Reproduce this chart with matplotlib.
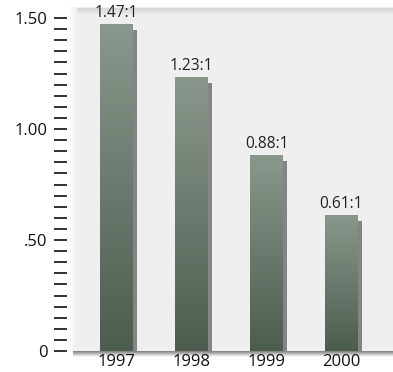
import matplotlib
matplotlib.use("Agg")
import matplotlib.pyplot as plt
import numpy as np
from matplotlib.colors import LinearSegmentedColormap
from matplotlib.patches import Rectangle

years = ["1997", "1998", "1999", "2000"]
ratios = [1.47, 1.23, 0.88, 0.61]
ratio_labels = ["1.47:1", "1.23:1", "0.88:1", "0.61:1"]
yticks = [0, 0.5, 1.0, 1.5]
ytick_labels = ["0", ".50", "1.00", "1.50"]

plt.rcParams['font.family'] = ['Open Sans', 'DejaVu Sans']

W, H = 393, 372
fig = plt.figure(figsize=(W / 100, H / 100), dpi=100)
fig.patch.set_facecolor("white")

ax_left_px, ax_right_px = 67, 393
y0_px = 351
ppu = 222.0
ymax = 1.56
top_px = y0_px - ymax * ppu
ax = fig.add_axes([ax_left_px / W, (H - y0_px) / H,
                   (ax_right_px - ax_left_px) / W, (y0_px - top_px) / H])
ax.set_facecolor("none")

step = 75.0
c0 = 116.5
xmin = (ax_left_px - c0) / step
xmax = (ax_right_px - c0) / step
ax.set_xlim(xmin, xmax)
ax.set_ylim(0, ymax)

px_x = 1.0 / step
px_y = 1.0 / ppu

# panel background
ax.imshow(np.full((2, 2, 3), 0.94), extent=[xmin + 5 * px_x, xmax, 0, ymax - 3 * px_y],
          aspect="auto", zorder=0, interpolation="bilinear")
grad = np.linspace(1.0, 0.94, 20)
ax.imshow(np.dstack([np.tile(grad, (2, 1))] * 3),
          extent=[xmin + 1 * px_x, xmin + 10 * px_x, 0, ymax - 3 * px_y],
          aspect="auto", zorder=0.5, interpolation="bilinear")
tg = np.linspace(0.94, 0.84, 20)[:, None]
ax.imshow(np.dstack([np.tile(tg[::-1], (1, 2))] * 3),
          extent=[xmin + 10 * px_x, xmax, ymax - 10 * px_y, ymax - 3 * px_y],
          aspect="auto", zorder=0.5, interpolation="bilinear")
bg = np.linspace(0.5, 1.0, 20)[:, None]
ax.imshow(np.dstack([np.tile(bg, (1, 2))] * 3), extent=[xmin + 6 * px_x, xmax, -6 * px_y, 0],
          aspect="auto", zorder=0.5, interpolation="bilinear", clip_on=False)

cmap = LinearSegmentedColormap.from_list("bar", ["#4c5d50", "#8a978c"])
bw = 33.0 / step
for i, v in enumerate(ratios):
    x0 = i - bw / 2
    x1 = i + bw / 2
    ax.add_patch(Rectangle((x1, 0), 4 * px_x, v - 5 * px_y, facecolor="#848484",
                           edgecolor="none", zorder=1))
    g = np.linspace(0, 1, 128)[:, None]
    ax.imshow(g, extent=[x0, x1, 0, v], origin="lower", cmap=cmap,
              aspect="auto", zorder=2, interpolation="bilinear")
    ax.annotate(ratio_labels[i], (i, v), xytext=(0, 2.5), textcoords="offset points",
                ha="center", va="bottom", fontsize=11.2, color="#222222", zorder=3)

ax.set_xticks(range(len(years)))
ax.set_xticklabels(years, fontsize=12)
ax.tick_params(axis="x", length=0, pad=2.5, colors="#111111")

ax.set_yticks(yticks)
ax.set_yticklabels(ytick_labels, fontsize=12)
ax.set_yticks(np.arange(0, 1.51, 0.05), minor=True)
ax.tick_params(axis="y", which="both", length=9.2, width=1.2, color="#111111", pad=5,
               direction="out")
ax.tick_params(axis="y", which="major", labelcolor="#111111")

for s in ax.spines.values():
    s.set_visible(False)

fig.savefig("out.png", dpi=100, facecolor="white")
